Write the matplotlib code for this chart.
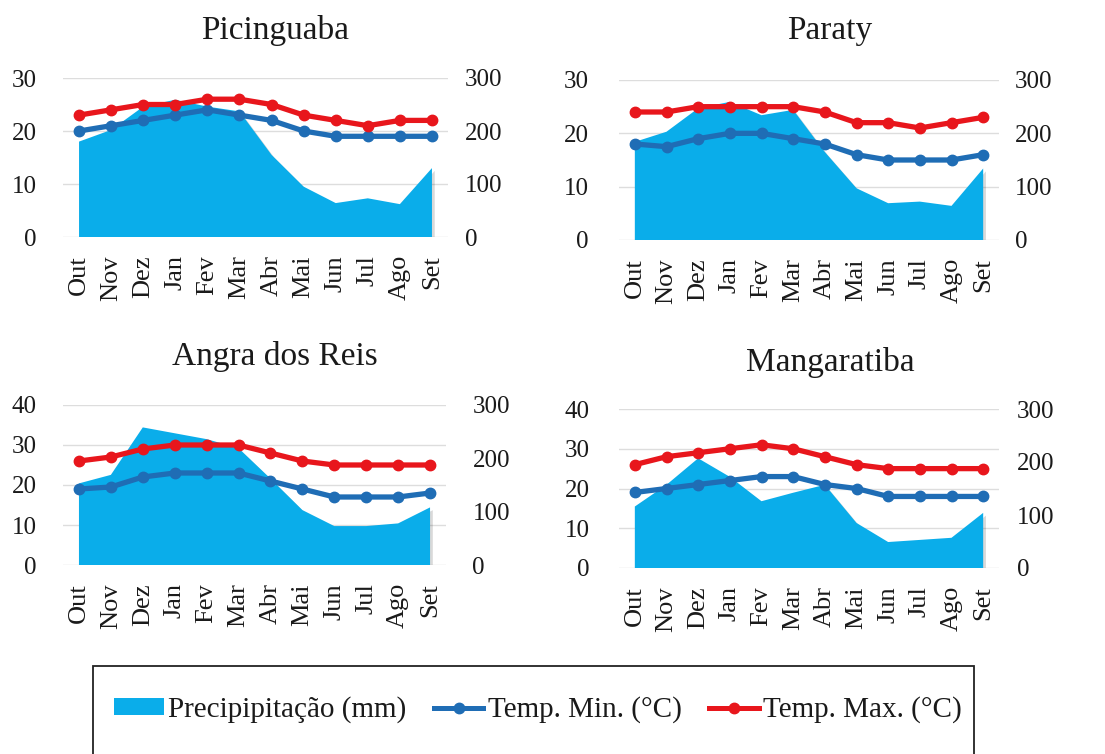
import matplotlib
matplotlib.use("Agg")
import matplotlib.pyplot as plt
import matplotlib.patheffects as pe
from matplotlib.patches import Rectangle, Patch
from matplotlib.lines import Line2D

plt.rcParams['font.family'] = ['Liberation Serif', 'DejaVu Serif']

# Dados
meses = ["Out", "Nov", "Dez", "Jan", "Fev", "Mar", "Abr", "Mai", "Jun", "Jul", "Ago", "Set"]

pic_prec = [180, 202, 246, 259, 246, 237, 155, 95, 64, 73, 62, 130]
pic_tmin = [20, 21, 22, 23, 24, 23, 22, 20, 19, 19, 19, 19]
pic_tmax = [23, 24, 25, 25, 26, 26, 25, 23, 22, 21, 22, 22]

par_prec = [184, 203, 247, 259, 234, 244, 165, 97, 69, 72, 64, 134]
par_tmin = [18, 17.5, 19, 20, 20, 19, 18, 16, 15, 15, 15, 16]
par_tmax = [24, 24, 25, 25, 25, 25, 24, 22, 22, 21, 22, 23]

ang_prec = [153, 169, 258, 247, 236, 219, 162, 103, 73, 73, 78, 108]
ang_tmin = [19, 19.5, 22, 23, 23, 23, 21, 19, 17, 17, 17, 18]
ang_tmax = [26, 27, 29, 30, 30, 30, 28, 26, 25, 25, 25, 25]

man_prec = [116, 157, 207, 172, 126, 142, 157, 85, 49, 53, 57, 104]
man_tmin = [19, 20, 21, 22, 23, 23, 21, 20, 18, 18, 18, 18]
man_tmax = [26, 28, 29, 30, 31, 30, 28, 26, 25, 25, 25, 25]

COR_PREC = "#0AADEA"
COR_MIN = "#1F6DB5"
COR_MAX = "#E8161C"
COR_GRADE = "#DDDDDD"
COR_TEXTO = "#1a1a1a"

# (titulo, prec, tmin, tmax, ymax esquerda, ticks esquerda, posicao eixo, posicao titulo, pads)
paineis = [
    ("Picinguaba", pic_prec, pic_tmin, pic_tmax, 30, [0, 10, 20, 30],
     [63, 78, 385, 159], (275, 30), (19, 12)),
    ("Paraty", par_prec, par_tmin, par_tmax, 30, [0, 10, 20, 30],
     [619, 80, 380, 160], (830, 31), (22, 11.5)),
    ("Angra dos Reis", ang_prec, ang_tmin, ang_tmax, 40, [0, 10, 20, 30, 40],
     [63, 405, 383, 160], (275, 356), (19, 19)),
    ("Mangaratiba", man_prec, man_tmin, man_tmax, 40, [0, 10, 20, 30, 40],
     [619, 409, 380, 159], (830, 363), (21, 13)),
]

W, H = 1105, 754
fig = plt.figure(figsize=(W / 100, H / 100), dpi=100, facecolor="white")

sombra_area = [pe.SimplePatchShadow(offset=(2, -2), alpha=0.15, shadow_rgbFace="black"), pe.Normal()]

for titulo, prec, tmin, tmax, ymax, yticks, pos, tpos, pads in paineis:
    x0, y0, w, h = pos
    rect = [x0 / W, 1 - (y0 + h) / H, w / W, h / H]

    ax_p = fig.add_axes(rect)   # precipitacao (eixo direito)
    ax_t = ax_p.twinx()         # temperaturas (eixo esquerdo)

    x = list(range(len(meses)))

    # grade horizontal (atras da area)
    for yv in yticks:
        ax_p.plot([0, 1], [yv, yv], color=COR_GRADE, lw=1.0,
                  transform=ax_t.get_yaxis_transform(), zorder=0)

    ax_p.fill_between(x, prec, 0, color=COR_PREC, lw=0, zorder=2,
                      path_effects=sombra_area)
    ax_p.set_ylim(0, 300)
    ax_p.set_yticks([0, 100, 200, 300])
    ax_p.yaxis.tick_right()
    ax_p.tick_params(axis="y", length=0, pad=pads[1], labelsize=18, labelcolor=COR_TEXTO)

    ax_t.plot(x, tmin, color=COR_MIN, lw=3.8, marker="o", ms=7.5, zorder=3)
    ax_t.plot(x, tmax, color=COR_MAX, lw=3.8, marker="o", ms=7.5, zorder=4)
    ax_t.set_ylim(0, ymax)
    ax_t.set_yticks(yticks)
    ax_t.yaxis.tick_left()
    ax_t.tick_params(axis="y", length=0, pad=pads[0], labelsize=18, labelcolor=COR_TEXTO)

    ax_p.set_xlim(-0.5, len(meses) - 0.5)
    ax_p.set_xticks(x)
    ax_p.set_xticklabels(meses, rotation=90, fontsize=19, color=COR_TEXTO)
    ax_p.tick_params(axis="x", length=0, pad=13)
    ax_t.tick_params(axis="x", length=0)

    for a in (ax_p, ax_t):
        for s in a.spines.values():
            s.set_visible(False)

    fig.text(tpos[0] / W, 1 - tpos[1] / H, titulo, ha="center", va="center",
             fontsize=24, color=COR_TEXTO)

# Legenda com moldura
fig.add_artist(Rectangle((93 / W, 1 - 800 / H), (974 - 93) / W, (800 - 666) / H,
                         transform=fig.transFigure, facecolor="white",
                         edgecolor="#222222", lw=1.3))

handles = [
    Patch(facecolor=COR_PREC, edgecolor="none"),
    Line2D([], [], color=COR_MIN, lw=3.6, marker="o", ms=7.5),
    Line2D([], [], color=COR_MAX, lw=3.6, marker="o", ms=7.5),
]
labels = ["Precipipitação (mm)", "Temp. Min. (°C)", "Temp. Max. (°C)"]
fig.legend(handles, labels, loc="center", bbox_to_anchor=(538 / W, 1 - 710 / H),
           ncol=3, frameon=False, fontsize=21, handlelength=1.7, handleheight=0.5,
           handletextpad=0.15, columnspacing=0.95, labelcolor=COR_TEXTO)

fig.savefig("out.png", dpi=100, facecolor="white")
